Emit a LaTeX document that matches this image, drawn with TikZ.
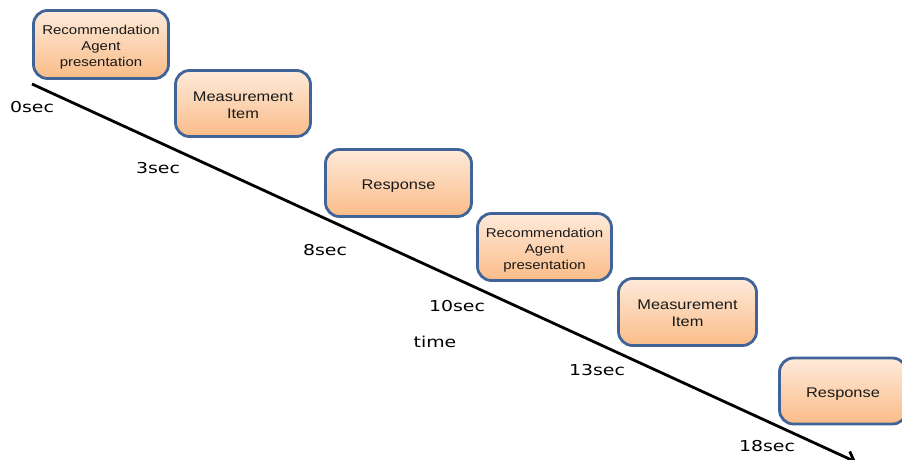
\documentclass[tikz,border=0pt]{standalone}
\usepackage{fontspec}
\setmainfont{Liberation Sans}
\newfontfamily\labelfont{DejaVu Sans}
\usetikzlibrary{arrows.meta}
\definecolor{boxborder}{RGB}{65,100,152}
\definecolor{boxtop}{RGB}{254,234,218}
\definecolor{boxbot}{RGB}{250,188,136}
\definecolor{boxtext}{RGB}{25,25,25}
\newcommand{\stx}[1]{\raisebox{-3pt}[\height][\depth]{\scalebox{1.17}[1]{#1}}}
\newcommand{\stl}[1]{\scalebox{1.26}[1]{#1}}
\tikzset{
  stagebox/.style={draw=boxborder, line width=2.8pt, rounded corners=14pt,
    top color=boxtop, bottom color=boxbot, text=boxtext, align=center,
    inner sep=0pt},
  smalltxt/.style={font=\fontsize{12.8}{16}\selectfont},
  bigtxt/.style={font=\fontsize{14}{16.7}\selectfont},
  timelabel/.style={font=\labelfont\fontsize{15}{18}\selectfont, text=black, inner sep=0pt},
  timeline/.style={line width=2.8pt, black, -{Straight Barb[length=8pt,width=14pt,line width=2.8pt]}}
}
\begin{document}
\begin{tikzpicture}[x=1pt,y=-1pt]
\useasboundingbox (0,0) rectangle (902,459);
% timeline
\coordinate (t0) at (32,84);
\coordinate (t1) at (856,462);
\draw[timeline] (t0) -- (t1);
% boxes
\node[stagebox, smalltxt, minimum width=135pt, minimum height=68pt] (b1) at (101,44.5)
  {\stx{\begin{tabular}{@{}c@{}}Recommendation\\Agent\\presentation\end{tabular}}};
\node[stagebox, bigtxt, minimum width=135pt, minimum height=66pt] (b2) at (243,103.5)
  {\stx{\begin{tabular}{@{}c@{}}Measurement\\Item\end{tabular}}};
\node[stagebox, bigtxt, minimum width=146pt, minimum height=67pt] (b3) at (398.5,183)
  {\stx{Response}};
\node[stagebox, smalltxt, minimum width=134pt, minimum height=67pt] (b4) at (544.5,247)
  {\stx{\begin{tabular}{@{}c@{}}Recommendation\\Agent\\presentation\end{tabular}}};
\node[stagebox, bigtxt, minimum width=138pt, minimum height=67pt] (b5) at (687.5,312)
  {\stx{\begin{tabular}{@{}c@{}}Measurement\\Item\end{tabular}}};
\node[stagebox, bigtxt, minimum width=127pt, minimum height=66pt] (b6) at (843,391)
  {\stx{Response}};
% time labels
\node[timelabel] (l0) at (32,107) {\stl{0sec}};
\node[timelabel] (l3) at (158,168) {\stl{3sec}};
\node[timelabel] (l8) at (325,250) {\stl{8sec}};
\node[timelabel] (l10) at (457,306) {\stl{10sec}};
\node[timelabel] (lt) at (435,342) {\stl{time}};
\node[timelabel] (l13) at (597,370) {\stl{13sec}};
\node[timelabel] (l18) at (767,446) {\stl{18sec}};
\end{tikzpicture}
\end{document}
